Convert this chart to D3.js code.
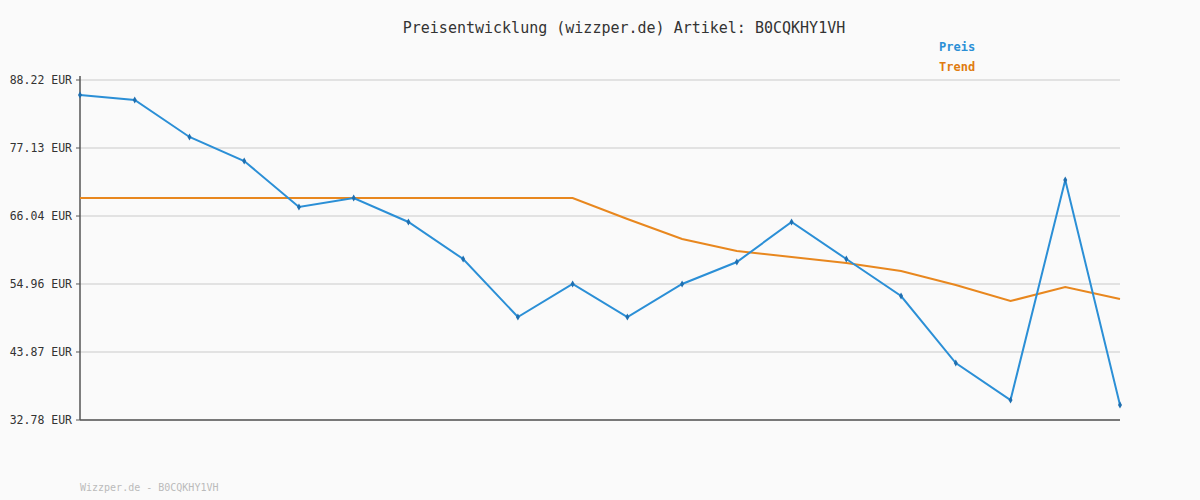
<!DOCTYPE html>
<html><head><meta charset="utf-8">
<script src="https://cdn.jsdelivr.net/npm/d3@7"></script>
<style>body{margin:0;background:#fafafa}svg{display:block;font-family:"DejaVu Sans Mono",monospace}</style>
</head><body><svg id="c" width="1200" height="500"></svg>
<script>
const title = "Preisentwicklung (wizzper.de) Artikel: B0CQKHY1VH";
const footer = "Wizzper.de - B0CQKHY1VH";
const yTicks = [32.78, 43.87, 54.96, 66.04, 77.13, 88.22];
const preis = [85.77,84.96,78.93,75.01,67.51,68.98,65.07,59.03,49.57,54.96,49.57,54.96,58.54,65.07,59.03,53.00,42.07,36.04,71.91,35.22];
const trend = [68.98,68.98,68.98,68.98,68.98,68.98,68.98,68.98,68.98,68.98,65.56,62.29,60.34,59.36,58.38,57.08,54.80,52.18,54.47,52.51];

const svg = d3.select("#c");
svg.append("rect").attr("width",1200).attr("height",500).attr("fill","#fafafa");
const x = d3.scaleLinear().domain([0, preis.length-1]).range([80,1120]);
const y = d3.scaleLinear().domain([32.78, 88.22]).range([420,80]);

svg.selectAll(".g").data(yTicks).enter().append("line")
  .attr("x1",80).attr("x2",1120).attr("y1",d=>y(d)).attr("y2",d=>y(d))
  .attr("stroke","#e2e2e2").attr("stroke-width",2);
svg.selectAll(".t").data(yTicks).enter().append("text")
  .attr("x",72).attr("y",d=>y(d)+4).attr("text-anchor","end")
  .attr("font-size",11.5).attr("fill","#333").text(d=>d.toFixed(2)+" EUR");
svg.append("line").attr("x1",80).attr("x2",80).attr("y1",76).attr("y2",420).attr("stroke","#555").attr("stroke-width",1.5);
svg.append("line").attr("x1",80).attr("x2",1120).attr("y1",420).attr("y2",420).attr("stroke","#555").attr("stroke-width",1.5);
svg.selectAll(".tk").data(yTicks).enter().append("line")
  .attr("x1",76).attr("x2",80).attr("y1",d=>y(d)).attr("y2",d=>y(d)).attr("stroke","#555");

const line = d3.line().x((d,i)=>x(i)).y(d=>y(d));
svg.append("path").datum(trend).attr("d",line).attr("fill","none").attr("stroke","#e8871e").attr("stroke-width",2);
svg.append("path").datum(preis).attr("d",line).attr("fill","none").attr("stroke","#2b8fd6").attr("stroke-width",2);
svg.selectAll(".p").data(preis).enter().append("path")
  .attr("transform",(d,i)=>`translate(${x(i)},${y(d)})`)
  .attr("d",d3.symbol(d3.symbolDiamond,14)).attr("fill","#1f6fb0");

svg.append("text").attr("x",624).attr("y",33).attr("text-anchor","middle").attr("font-size",15).attr("fill","#333").text(title);
svg.append("text").attr("x",939).attr("y",51).attr("font-size",12).attr("font-weight","bold").attr("fill","#2b8fd6").text("Preis");
svg.append("text").attr("x",939).attr("y",71).attr("font-size",12).attr("font-weight","bold").attr("fill","#e07c10").text("Trend");
svg.append("text").attr("x",80).attr("y",491).attr("font-size",10).attr("fill","#bbb").text(footer);
</script></body></html>
